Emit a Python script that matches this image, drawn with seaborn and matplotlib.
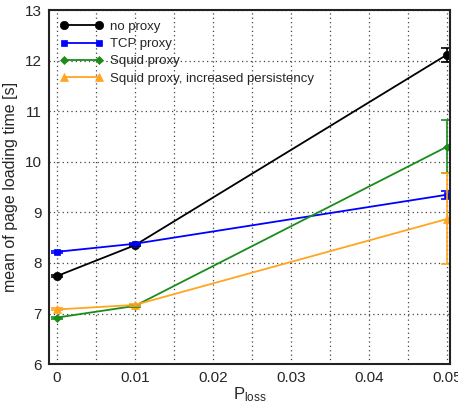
import numpy as np
import pandas as pd
import matplotlib
matplotlib.use("Agg")
import matplotlib.pyplot as plt
import seaborn as sns

p_loss = [0.0, 0.01, 0.05]
series_names = ["no proxy", "TCP proxy", "Squid proxy", "Squid proxy, increased persistency"]
no_proxy = [7.74, 8.35, 12.12]
tcp_proxy = [8.22, 8.38, 9.35]
squid_proxy = [6.92, 7.15, 10.30]
squid_persist = [7.08, 7.17, 8.87]
no_proxy_err = [0.02, 0.02, 0.14]
tcp_proxy_err = [0.02, 0.02, 0.08]
squid_proxy_err = [0.02, 0.02, 0.53]
squid_persist_err = [0.02, 0.02, 0.90]

values = [no_proxy, tcp_proxy, squid_proxy, squid_persist]
errors = [no_proxy_err, tcp_proxy_err, squid_proxy_err, squid_persist_err]
colors = ["black", "#0000ff", "#1a8c1a", "#ffa520"]
markers = ["o", "s", "D", "^"]
msizes = [6, 5, 4.5, 6]

rows = []
for name, vals in zip(series_names, values):
    for x, y in zip(p_loss, vals):
        rows.append({"p": x, "t": y, "series": name})
df = pd.DataFrame(rows)

sns.set_style("white")
plt.rcParams["font.family"] = ["Liberation Sans", "DejaVu Sans"]
plt.rcParams["mathtext.fontset"] = "custom"
plt.rcParams["mathtext.rm"] = "Liberation Sans"

fig = plt.figure(figsize=(4.58, 4.05), dpi=100)
ax = fig.add_axes([0.107, 0.101, 0.876, 0.874])

sns.lineplot(data=df, x="p", y="t", hue="series", style="series",
             hue_order=series_names, style_order=series_names,
             palette=dict(zip(series_names, colors)),
             markers=dict(zip(series_names, markers)),
             dashes=False, errorbar=None, ax=ax, linewidth=1.3,
             markeredgewidth=0.5, legend=False)

handles = []
for name, vals, err, c, m, ms in zip(series_names, values, errors, colors, markers, msizes):
    ax.errorbar(p_loss, vals, yerr=err, fmt="none", ecolor=c, capsize=4,
                elinewidth=1.2, capthick=1.2)
    h, = ax.plot([], [], color=c, marker=m, markersize=ms, lw=1.3,
                 markeredgewidth=0.5, label=name)
    handles.append(h)

# resize markers drawn by seaborn
for line, ms, c in zip(ax.lines[:4], msizes, colors):
    line.set_markersize(ms)
    line.set_markeredgecolor(c)

ax.set_xlim(-0.001, 0.0504)
ax.set_ylim(6, 13)
ax.set_xticks([0, 0.01, 0.02, 0.03, 0.04, 0.05])
ax.set_xticklabels(["0", "0.01", "0.02", "0.03", "0.04", "0.05"])
ax.set_xticks(np.arange(0.005, 0.05, 0.01), minor=True)
ax.set_yticks(range(6, 14))
ax.grid(True, which="both", axis="x", linestyle=(0, (1, 2.5)), color="#444444", linewidth=0.9)
ax.grid(True, which="major", axis="y", linestyle=(0, (1, 2.5)), color="#444444", linewidth=0.9)
ax.tick_params(which="both", direction="in", length=0, labelsize=11, pad=5)

for s in ax.spines.values():
    s.set_color("#222222")
    s.set_linewidth(1.5)

ax.set_xlabel(r"$\mathregular{P_{loss}}$", fontsize=12, labelpad=0)
ax.set_ylabel("mean of page loading time [s]", fontsize=11.5, labelpad=5)

ax.legend(handles=handles, loc="upper left", frameon=False, numpoints=2,
          handlelength=3.3, fontsize=9.5, borderaxespad=0.5, labelspacing=0.38,
          handletextpad=0.55, borderpad=0.3)

fig.savefig("out.png", dpi=100)
